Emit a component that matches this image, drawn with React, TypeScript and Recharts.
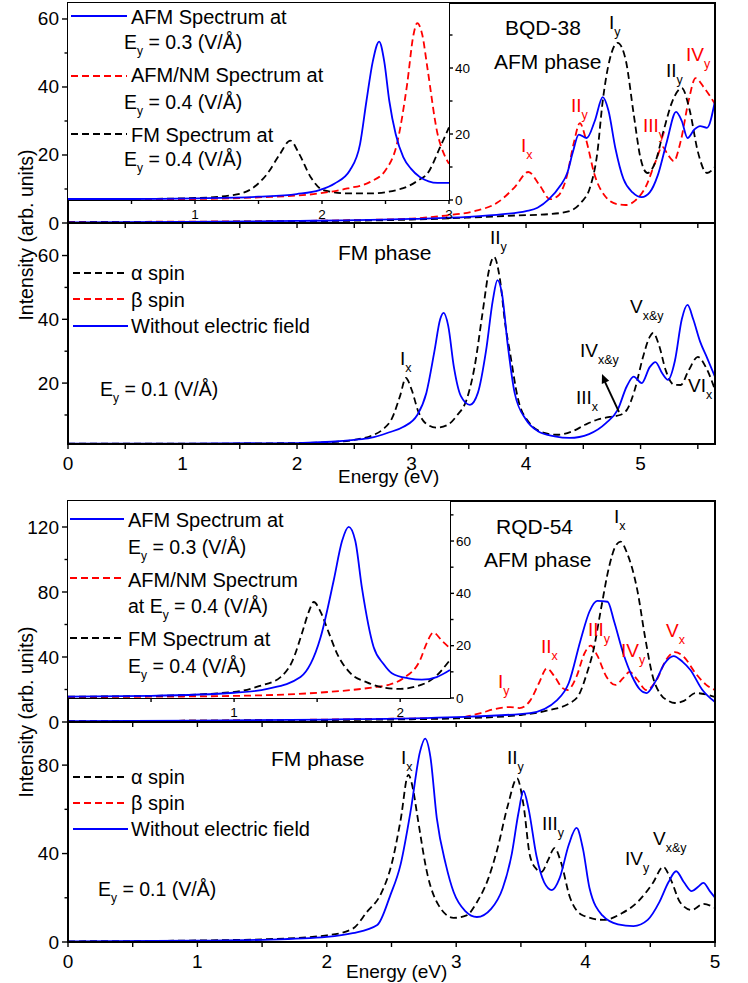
import React from "react";
import { LineChart, Line, XAxis, YAxis } from "recharts";

const FONT = '"Liberation Sans", Arial, Helvetica, sans-serif';
const BLUE = "#0000ff";
const RED = "#ff0000";
const BLACK = "#000000";

type Pt = [number, number];

// ---- BQD-38, AFM phase (main panel) ----
const bqdAfmNm: Pt[] = [[0,0.3],[1,0.4],[2,0.6],[2.6,0.9],[3.0,1.3],[3.3,2.2],[3.55,3.5],[3.75,6],[3.9,10.5],[4.02,15],[4.12,11],[4.21,7],[4.28,8],[4.35,13],[4.42,24],[4.47,29.4],[4.52,25],[4.6,14],[4.7,7.5],[4.8,5.5],[4.87,5.3],[4.95,6.5],[5.05,11],[5.13,18],[5.19,22.4],[5.24,20],[5.29,18.2],[5.35,24],[5.42,36],[5.48,42.6],[5.55,40],[5.65,35]];
const bqdAfmFm: Pt[] = [[0,0.2],[1,0.3],[2,0.5],[3,1],[3.5,1.6],[3.9,2.2],[4.2,2.6],[4.38,3.5],[4.48,6],[4.56,10.6],[4.62,20],[4.67,36],[4.73,48],[4.8,53],[4.87,48],[4.94,32],[5.0,19],[5.06,14.7],[5.13,18],[5.2,27],[5.28,36],[5.36,39.7],[5.43,33],[5.5,21],[5.58,14.7],[5.65,16.5]];
const bqdAfm03: Pt[] = [[0,0.2],[1,0.3],[2,0.6],[3,1.2],[3.5,1.8],[3.8,2.6],[4.0,3.5],[4.1,4.5],[4.2,7],[4.3,11],[4.36,14.7],[4.41,21],[4.46,26],[4.53,25],[4.6,30],[4.67,37],[4.72,33],[4.78,22],[4.85,13],[4.93,9],[5.01,7.6],[5.08,9],[5.15,14],[5.23,24],[5.31,32.7],[5.36,30],[5.41,25],[5.47,27.5],[5.52,28.5],[5.58,28],[5.65,36]];

// ---- BQD-38 inset (0-3 eV) ----
const bqdInsAfm03: Pt[] = [[0,0.3],[0.5,0.3],[1,0.5],[1.5,1],[1.8,1.8],[1.98,3],[2.1,5],[2.22,9],[2.3,17],[2.35,30],[2.4,42],[2.45,48],[2.49,42],[2.53,30],[2.58,20],[2.64,13],[2.7,9.5],[2.77,7],[2.91,5.2],[3.0,5.2]];
const bqdInsAfmNm: Pt[] = [[0,0.2],[0.5,0.2],[1,0.3],[1.5,0.8],[1.98,2],[2.2,3.5],[2.38,5.5],[2.5,9],[2.59,17],[2.67,35],[2.72,50],[2.75,53.6],[2.79,50],[2.83,40],[2.91,20],[2.96,14],[3.0,11]];
const bqdInsFm: Pt[] = [[0,0.3],[0.5,0.3],[1,0.6],[1.3,1.5],[1.45,3.5],[1.57,8],[1.67,14],[1.75,18],[1.82,14],[1.91,7],[2.01,3],[2.2,2],[2.38,2],[2.64,3.6],[2.76,6],[2.83,8],[2.93,16],[3.0,22]];

// ---- BQD-38, FM phase ----
const bqdFmAlpha: Pt[] = [[0,1],[1,1],[2,1.2],[2.3,1.5],[2.5,2.2],[2.65,3.5],[2.75,5.5],[2.83,9],[2.9,16],[2.95,21.6],[3.0,18],[3.06,11],[3.12,7.5],[3.22,6],[3.32,7],[3.4,10],[3.48,14.7],[3.55,25],[3.62,42],[3.68,56],[3.72,59.6],[3.77,53],[3.82,38],[3.86,29.5],[3.93,15],[4.03,7.5],[4.15,4.5],[4.27,3.8],[4.4,4.8],[4.52,7],[4.62,8.5],[4.73,9.4],[4.82,10],[4.88,11.6],[4.95,18],[5.02,28],[5.08,34.5],[5.11,35.7],[5.16,32],[5.22,24],[5.29,19.5],[5.35,19.4],[5.42,24],[5.5,28.2],[5.57,25],[5.65,17.9]];
const bqdFmNoField: Pt[] = [[0,1],[1,1],[2,1.2],[2.3,1.6],[2.5,2.2],[2.64,2.8],[2.8,4.5],[2.93,6.3],[3.05,10],[3.13,17],[3.2,30],[3.25,40],[3.28,42],[3.32,38],[3.37,25],[3.43,16],[3.51,13.2],[3.58,17],[3.65,30],[3.71,46],[3.75,52.3],[3.79,48],[3.84,32],[3.9,17],[4.0,8.5],[4.1,5],[4.25,3.3],[4.38,2.8],[4.55,4],[4.7,7.5],[4.8,11.6],[4.88,19],[4.94,22],[5.01,20],[5.08,25],[5.13,26.6],[5.19,23],[5.24,21],[5.3,27],[5.36,40],[5.41,44.5],[5.46,40],[5.52,33],[5.58,28],[5.65,22]];

// ---- RQD-54, AFM phase ----
const rqdAfmNm: Pt[] = [[0,0.5],[1,0.8],[2,1.5],[2.5,2],[3.0,2.5],[3.19,5.5],[3.3,8],[3.42,9.2],[3.49,8.6],[3.57,13],[3.64,24],[3.7,33],[3.76,28],[3.82,21],[3.86,19.7],[3.93,28],[3.99,42],[4.04,47],[4.09,41],[4.16,28],[4.23,22.8],[4.29,27],[4.34,30.8],[4.4,26],[4.47,19.7],[4.55,26],[4.62,38],[4.69,43],[4.76,40],[4.85,30],[4.93,23],[5.0,19.7]];
const rqdAfmFm: Pt[] = [[0,0.5],[1,0.8],[2,1.2],[3,2.2],[3.5,4.3],[3.7,7],[3.88,11.7],[3.95,17],[4.01,30],[4.06,44],[4.12,70],[4.18,95],[4.23,108],[4.27,111],[4.32,104],[4.4,81],[4.46,52],[4.52,27.7],[4.58,17],[4.64,13],[4.69,11.7],[4.76,13],[4.85,17.8],[4.93,17],[5.0,15.4]];
const rqdAfm03: Pt[] = [[0,0.5],[1,0.8],[2,1.5],[3,3],[3.57,5.5],[3.78,13.5],[3.87,24],[3.96,50],[4.03,68],[4.09,74.5],[4.17,74],[4.22,62],[4.29,42.5],[4.36,28],[4.42,20],[4.47,17.8],[4.54,25],[4.61,36],[4.68,40.6],[4.75,37],[4.81,32],[4.9,20],[5.0,12.3]];

// ---- RQD-54 inset (0-2.3 eV) ----
const rqdInsAfm03: Pt[] = [[0,0.5],[0.5,0.8],[1,2],[1.2,3.5],[1.4,8],[1.52,23],[1.6,45],[1.65,60],[1.69,65.4],[1.73,60],[1.77,42],[1.84,19.5],[1.9,13],[1.95,9.5],[2.05,7.5],[2.13,7],[2.22,8],[2.3,10.7]];
const rqdInsFm: Pt[] = [[0,0.5],[0.5,0.8],[1,2.3],[1.15,4.5],[1.28,8],[1.35,14],[1.41,25],[1.45,33],[1.48,36.7],[1.52,33],[1.57,25],[1.62,17],[1.7,9.5],[1.8,6],[1.9,4],[2.0,3.5],[2.1,4.5],[2.2,7.5],[2.3,14.5]];
const rqdInsAfmNm: Pt[] = [[0,0.3],[0.5,0.5],[1,0.8],[1.5,2],[1.83,4],[1.93,5],[2.02,7.6],[2.12,14.5],[2.16,21],[2.2,25],[2.25,22],[2.3,19]];

// ---- RQD-54, FM phase ----
const rqdFmAlpha: Pt[] = [[0,0.3],[1,0.7],[1.5,1.2],[2.0,3],[2.2,6],[2.31,13.6],[2.42,22],[2.5,35],[2.57,55],[2.63,75.6],[2.67,68],[2.7,57],[2.78,30],[2.86,17],[2.98,10.9],[3.08,12],[3.16,18],[3.25,29],[3.32,42.5],[3.4,62],[3.47,74],[3.52,62],[3.57,39],[3.62,33],[3.66,31.7],[3.71,37],[3.76,42.5],[3.81,36],[3.88,20],[3.98,12],[4.14,10],[4.28,13],[4.4,18],[4.52,26.7],[4.6,34],[4.66,28],[4.73,18],[4.82,14.5],[4.91,17.2],[5.0,15.4]];
const rqdFmNoField: Pt[] = [[0,0.3],[1,0.6],[1.5,1],[2.0,2.3],[2.2,4],[2.39,7.7],[2.49,21],[2.57,35],[2.65,60],[2.72,86],[2.76,92],[2.8,84],[2.85,56],[2.92,35],[2.98,22.6],[3.07,14],[3.16,11.3],[3.27,15],[3.36,24.4],[3.43,40],[3.48,58],[3.52,68.3],[3.56,60],[3.62,39],[3.68,27],[3.74,23.5],[3.8,29],[3.87,44],[3.93,51.6],[3.98,42],[4.03,24.4],[4.13,12],[4.25,8],[4.37,7.2],[4.48,10],[4.57,18],[4.64,27],[4.7,32],[4.76,27],[4.82,23],[4.87,25],[4.91,26.7],[4.96,23],[5.0,20]];

// tick values
const xTicksTop = [0, 0.5, 1, 1.5, 2, 2.5, 3, 3.5, 4, 4.5, 5, 5.5];
const xTicksBottom = [0, 0.5, 1, 1.5, 2, 2.5, 3, 3.5, 4, 4.5, 5];
const xLabelsMain = [0, 1, 2, 3, 4, 5];

const toRows = (pts: Pt[]) => pts.map(([e, v]) => ({ e, v }));

interface Series { pts: Pt[]; color: string; dash?: boolean }
interface PlotProps {
  x0: number; x1: number; y0: number; y1: number;
  xDomain: [number, number]; yDomain: [number, number];
  xTicks: number[]; xLabels: number[];
  yTicks: number[]; yLabels: number[];
  series: Series[];
  inset?: boolean;
}

function Plot(p: PlotProps) {
  const pad = 50;
  const w = p.x1 - p.x0;
  const h = p.y1 - p.y0;
  const fs = p.inset ? 13.5 : 19;
  const side = p.inset ? 1 : -1;

  const xTick = (t: any) => {
    const v = t.payload.value;
    return (
      <g>
        <line x1={t.x} x2={t.x} y1={t.y} y2={t.y + (p.inset ? 4 : 5)} stroke="#000" strokeWidth={1.4} />
        {p.xLabels.includes(v) && (
          <text x={t.x} y={t.y + (p.inset ? 14 : 19)} textAnchor="middle" dominantBaseline="central" fontSize={fs} fontFamily={FONT} fill="#000">
            {v}
          </text>
        )}
      </g>
    );
  };

  const yTick = (t: any) => {
    const v = t.payload.value;
    const major = p.yLabels.includes(v);
    const len = major ? (p.inset ? 4 : 6) : 3.5;
    return (
      <g>
        <line x1={t.x} x2={t.x + side * len} y1={t.y} y2={t.y} stroke="#000" strokeWidth={1.4} />
        {major && (
          <text x={t.x + side * (p.inset ? 6 : 9)} y={t.y} textAnchor={p.inset ? "start" : "end"} dominantBaseline="central" fontSize={fs} fontFamily={FONT} fill="#000">
            {v}
          </text>
        )}
      </g>
    );
  };

  // axes get a 1px band so they still render; margins take it back
  const margin = p.inset
    ? { top: pad, right: pad - 1, bottom: pad - 1, left: pad }
    : { top: pad, right: pad, bottom: pad - 1, left: pad - 1 };

  return (
    <>
      {p.inset && <div style={{ position: "absolute", left: p.x0, top: p.y0, width: w, height: h, background: "#fff" }} />}
      <div style={{ position: "absolute", left: p.x0 - pad, top: p.y0 - pad }}>
        <LineChart width={w + 2 * pad} height={h + 2 * pad} margin={margin}>
          <XAxis type="number" dataKey="e" domain={p.xDomain} ticks={p.xTicks} interval={0} allowDataOverflow height={1} tickSize={0} tickMargin={0} axisLine={false} tickLine={false} tick={xTick} />
          <YAxis type="number" domain={p.yDomain} ticks={p.yTicks} interval={0} allowDataOverflow width={1} orientation={p.inset ? "right" : "left"} tickSize={0} tickMargin={0} axisLine={false} tickLine={false} tick={yTick} />
          {p.series.map((s, i) => (
            <Line
              key={i}
              data={toRows(s.pts)}
              dataKey="v"
              type="monotone"
              stroke={s.color}
              strokeWidth={1.8}
              strokeDasharray={s.dash ? "7 4" : undefined}
              dot={false}
              activeDot={false}
              isAnimationActive={false}
            />
          ))}
        </LineChart>
      </div>
      {p.inset ? (
        <div style={{ position: "absolute", left: p.x0, top: p.y0, width: w + 1, height: h + 1, boxSizing: "border-box", borderRight: "1.5px solid #000", borderBottom: "1.5px solid #000" }} />
      ) : (
        <div style={{ position: "absolute", left: p.x0 - 1, top: p.y0 - 1, width: w + 2, height: h + 2, boxSizing: "border-box", border: "2px solid #000" }} />
      )}
    </>
  );
}

function Txt({ x, y, size = 20, color = "#000", children, rotate = false }: any) {
  return (
    <div
      style={{
        position: "absolute",
        left: x,
        top: y,
        transform: rotate ? "translate(-50%, -50%) rotate(-90deg)" : "translateY(-50%)",
        fontSize: size,
        lineHeight: 1,
        color,
        whiteSpace: "nowrap",
        fontFamily: FONT,
      }}
    >
      {children}
    </div>
  );
}

const Sub = ({ children, size = 12.5, drop = 6 }: any) => (
  <span style={{ fontSize: size, position: "relative", top: drop }}>{children}</span>
);

const Peak = ({ x, y, main, sub, color = "#000" }: any) => (
  <Txt x={x} y={y} size={19} color={color}>
    {main}
    <Sub size={12.5} drop={7}>{sub}</Sub>
  </Txt>
);

const Ey = ({ x, y, val, prefix = "" }: any) => (
  <Txt x={x} y={y} size={19.5}>
    {prefix}E<Sub size={12} drop={6}>y</Sub> = {val} (V/Å)
  </Txt>
);

export default function App() {
  return (
    <div style={{ position: "absolute", left: 0, top: 0, width: 748, height: 983, background: "#fff", overflow: "hidden", fontFamily: FONT }}>
      {/* BQD-38 AFM */}
      <Plot x0={68} x1={715} y0={3} y1={223} xDomain={[0, 5.65]} yDomain={[0, 64.7]} xTicks={xTicksTop} xLabels={[]} yTicks={[0, 10, 20, 30, 40, 50, 60]} yLabels={[0, 20, 40, 60]}
        series={[{ pts: bqdAfmNm, color: RED, dash: true }, { pts: bqdAfmFm, color: BLACK, dash: true }, { pts: bqdAfm03, color: BLUE }]} />
      <Plot inset x0={68} x1={449} y0={3} y1={200} xDomain={[0, 3]} yDomain={[0, 59.7]} xTicks={[0.5, 1, 1.5, 2, 2.5, 3]} xLabels={[1, 2, 3]} yTicks={[0, 10, 20, 30, 40, 50]} yLabels={[0, 20, 40]}
        series={[{ pts: bqdInsFm, color: BLACK, dash: true }, { pts: bqdInsAfmNm, color: RED, dash: true }, { pts: bqdInsAfm03, color: BLUE }]} />
      {/* BQD-38 FM */}
      <Plot x0={68} x1={715} y0={223} y1={444} xDomain={[0, 5.65]} yDomain={[0.9, 70.2]} xTicks={xTicksTop} xLabels={xLabelsMain} yTicks={[10, 20, 30, 40, 50, 60]} yLabels={[20, 40, 60]}
        series={[{ pts: bqdFmAlpha, color: BLACK, dash: true }, { pts: bqdFmNoField, color: BLUE }]} />
      {/* RQD-54 AFM */}
      <Plot x0={68} x1={715} y0={501} y1={722} xDomain={[0, 5]} yDomain={[0, 136]} xTicks={xTicksBottom} xLabels={[]} yTicks={[0, 20, 40, 60, 80, 100, 120]} yLabels={[0, 40, 80, 120]}
        series={[{ pts: rqdAfmNm, color: RED, dash: true }, { pts: rqdAfmFm, color: BLACK, dash: true }, { pts: rqdAfm03, color: BLUE }]} />
      <Plot inset x0={68} x1={450} y0={501} y1={698} xDomain={[0, 2.3]} yDomain={[0, 75.3]} xTicks={[0.5, 1, 1.5, 2]} xLabels={[1, 2]} yTicks={[0, 10, 20, 30, 40, 50, 60, 70]} yLabels={[0, 20, 40, 60]}
        series={[{ pts: rqdInsAfmNm, color: RED, dash: true }, { pts: rqdInsFm, color: BLACK, dash: true }, { pts: rqdInsAfm03, color: BLUE }]} />
      {/* RQD-54 FM */}
      <Plot x0={68} x1={715} y0={722} y1={942} xDomain={[0, 5]} yDomain={[0, 99.5]} xTicks={xTicksBottom} xLabels={xLabelsMain} yTicks={[0, 20, 40, 60, 80]} yLabels={[0, 40, 80]}
        series={[{ pts: rqdFmAlpha, color: BLACK, dash: true }, { pts: rqdFmNoField, color: BLUE }]} />

      {/* legend samples and arrow */}
      <svg width={748} height={983} style={{ position: "absolute", left: 0, top: 0, pointerEvents: "none" }}>
        <g strokeWidth={1.8}>
          <line x1={71} x2={127} y1={16} y2={16} stroke={BLUE} />
          <line x1={71} x2={127} y1={76} y2={76} stroke={RED} strokeDasharray="7 4" />
          <line x1={71} x2={127} y1={134} y2={134} stroke={BLACK} strokeDasharray="7 4" />
          <line x1={73} x2={128} y1={273} y2={273} stroke={BLACK} strokeDasharray="7 4" />
          <line x1={73} x2={128} y1={299} y2={299} stroke={RED} strokeDasharray="7 4" />
          <line x1={73} x2={128} y1={326} y2={326} stroke={BLUE} />
          <line x1={70} x2={124} y1={519} y2={519} stroke={BLUE} />
          <line x1={70} x2={124} y1={578} y2={578} stroke={RED} strokeDasharray="7 4" />
          <line x1={70} x2={124} y1={638} y2={638} stroke={BLACK} strokeDasharray="7 4" />
          <line x1={73} x2={128} y1={777} y2={777} stroke={BLACK} strokeDasharray="7 4" />
          <line x1={73} x2={128} y1={803} y2={803} stroke={RED} strokeDasharray="7 4" />
          <line x1={73} x2={128} y1={829} y2={829} stroke={BLUE} />
        </g>
        <line x1={619} y1={412} x2={605} y2={382} stroke="#000" strokeWidth={1.8} />
        <polygon points="602,374 609.2,380.7 601.8,383.9" fill="#000" />
      </svg>

      {/* axis titles */}
      <Txt x={27} y={235} size={19.5} rotate>Intensity (arb. units)</Txt>
      <Txt x={27} y={712} size={19.5} rotate>Intensity (arb. units)</Txt>
      <Txt x={338} y={476} size={19}>Energy (eV)</Txt>
      <Txt x={346} y={971} size={19}>Energy (eV)</Txt>

      {/* BQD-38 inset legend */}
      <Txt x={131} y={17}>AFM Spectrum at</Txt>
      <Ey x={124} y={43} val="0.3" />
      <Txt x={131} y={75}>AFM/NM Spectrum at</Txt>
      <Ey x={124} y={103} val="0.4" />
      <Txt x={131} y={135}>FM Spectrum at</Txt>
      <Ey x={124} y={160} val="0.4" />

      {/* BQD-38 AFM labels */}
      <Txt x={505} y={27} size={21}>BQD-38</Txt>
      <Txt x={494} y={61} size={21}>AFM phase</Txt>
      <Peak x={609} y={22} main="I" sub="y" />
      <Peak x={666} y={70} main="II" sub="y" />
      <Peak x={686} y={54} main="IV" sub="y" color={RED} />
      <Peak x={571} y={105} main="II" sub="y" color={RED} />
      <Peak x={521} y={145} main="I" sub="x" color={RED} />
      <Peak x={643} y={125} main="III" sub="y" color={RED} />

      {/* BQD-38 FM labels */}
      <Txt x={338} y={252} size={21}>FM phase</Txt>
      <Txt x={131} y={273}>α spin</Txt>
      <Txt x={131} y={300}>β spin</Txt>
      <Txt x={131} y={326}>Without electric field</Txt>
      <Ey x={100} y={390} val="0.1" />
      <Peak x={490} y={237} main="II" sub="y" />
      <Peak x={400} y={358} main="I" sub="x" />
      <Peak x={580} y={350} main="IV" sub="x&y" />
      <Peak x={576} y={397} main="III" sub="x" />
      <Peak x={630} y={306} main="V" sub="x&y" />
      <Peak x={688} y={385} main="VI" sub="x" />

      {/* RQD-54 inset legend */}
      <Txt x={128} y={520}>AFM Spectrum at</Txt>
      <Ey x={128} y={548} val="0.3" />
      <Txt x={128} y={580}>AFM/NM Spectrum</Txt>
      <Ey x={128} y={607} val="0.4" prefix="at " />
      <Txt x={128} y={639}>FM Spectrum at</Txt>
      <Ey x={128} y={667} val="0.4" />

      {/* RQD-54 AFM labels */}
      <Txt x={496} y={526} size={21}>RQD-54</Txt>
      <Txt x={484} y={559} size={21}>AFM phase</Txt>
      <Peak x={614} y={516} main="I" sub="x" />
      <Peak x={541} y={646} main="II" sub="x" color={RED} />
      <Peak x={498} y={681} main="I" sub="y" color={RED} />
      <Peak x={588} y={629} main="III" sub="y" color={RED} />
      <Peak x={621} y={650} main="IV" sub="y" color={RED} />
      <Peak x={666} y={630} main="V" sub="x" color={RED} />

      {/* RQD-54 FM labels */}
      <Txt x={271} y={758} size={21}>FM phase</Txt>
      <Txt x={131} y={777}>α spin</Txt>
      <Txt x={131} y={803}>β spin</Txt>
      <Txt x={131} y={829}>Without electric field</Txt>
      <Ey x={98} y={890} val="0.1" />
      <Peak x={401} y={757} main="I" sub="x" />
      <Peak x={507} y={757} main="II" sub="y" />
      <Peak x={542} y={823} main="III" sub="y" />
      <Peak x={625} y={858} main="IV" sub="y" />
      <Peak x={653} y={838} main="V" sub="x&y" />
    </div>
  );
}
